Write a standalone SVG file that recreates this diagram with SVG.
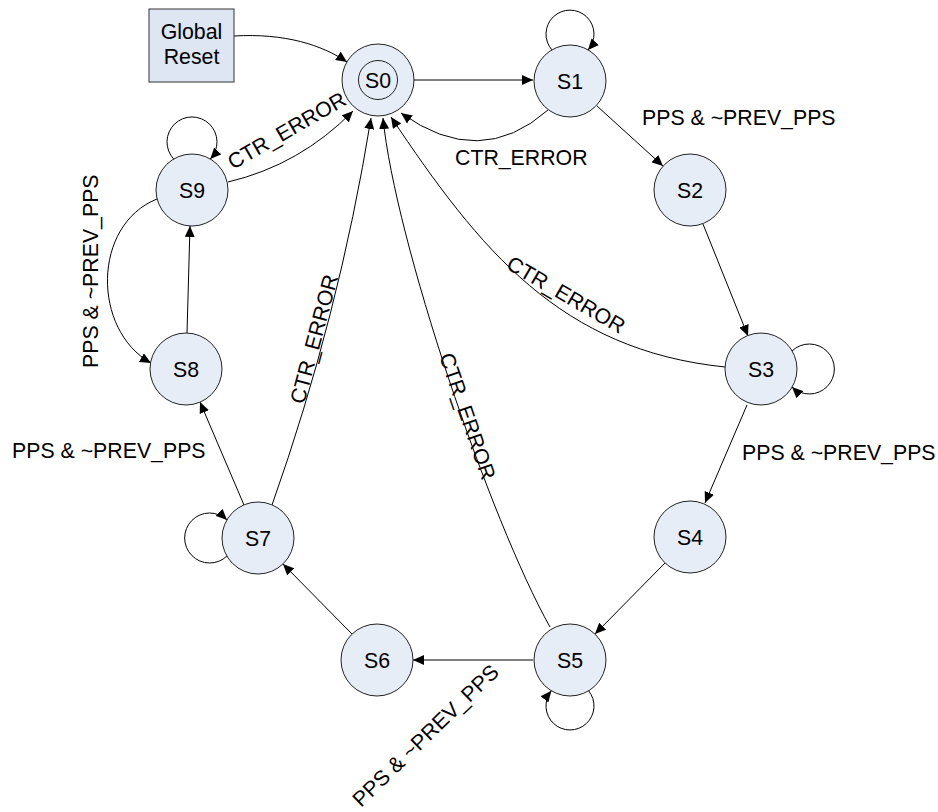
<svg xmlns="http://www.w3.org/2000/svg" width="938" height="812" viewBox="0 0 938 812">
  <style>
    .node circle { fill: #e7edf7; stroke: #222; stroke-width: 1; }
    .box rect { fill: #dde6f2; stroke: #333; stroke-width: 1; }
    .lbl { font-family: "Liberation Sans", Arial, sans-serif; font-size: 21.3px; fill: #000; }
    .nlbl { font-family: "Liberation Sans", Arial, sans-serif; font-size: 21.3px; fill: #000; text-anchor: middle; }
    .edge { fill: none; stroke: #000; stroke-width: 1; marker-end: url(#arrow); }
  </style>
  <defs>
    <marker id="arrow" markerUnits="userSpaceOnUse" markerWidth="12" markerHeight="10" refX="11" refY="5" orient="auto">
      <path d="M0,0 L11,5 L0,10 z" fill="#000"/>
    </marker>
  </defs>
  <rect width="938" height="812" fill="#fff"/>

  <!-- transitions -->
  <g id="connectors">
    <path class="edge" d="M234,36 C285,33 322,45 347,62"/>
    <path class="edge" d="M414,80 L533,80"/>
    <path class="edge" d="M552,50 A24,24 0 1 1 588,50"/>
    <path class="edge" d="M548,110 Q480,170 401,113"/>
    <path class="edge" d="M597,106 L663,166"/>
    <path class="edge" d="M703,224 L748,336"/>
    <path class="edge" d="M792,351 A25,25 0 1 1 792,387"/>
    <path class="edge" d="M725,367 C560,350 480,250 391,117"/>
    <path class="edge" d="M747,405 L705,503"/>
    <path class="edge" d="M665,563 L595,634"/>
    <path class="edge" d="M588.6,690.8 A24,24 0 1 1 551.4,690.8"/>
    <path class="edge" d="M533,660 L413,660"/>
    <path class="edge" d="M550,627 C490,520 395,240 383,118"/>
    <path class="edge" d="M352,634 L283,564"/>
    <path class="edge" d="M227,556 A25,25 0 1 1 227,520"/>
    <path class="edge" d="M244,505 L200,402"/>
    <path class="edge" d="M272,505 Q339,316 371,118"/>
    <path class="edge" d="M187,333 L190,226"/>
    <path class="edge" d="M157,199 C92,225 92,330 151,363"/>
    <path class="edge" d="M173.7,159 A25,25 0 1 1 210.3,159"/>
    <path class="edge" d="M228,182 Q300,165 353,111"/>
  </g>

  <!-- transition labels -->
  <g id="labels">
    <text class="lbl" x="642" y="125">PPS &amp; ~PREV_PPS</text>
    <text class="lbl" x="455" y="165">CTR_ERROR</text>
    <text class="lbl" x="742" y="460">PPS &amp; ~PREV_PPS</text>
    <text class="lbl" x="12" y="458">PPS &amp; ~PREV_PPS</text>
    <text class="lbl" transform="translate(98,368) rotate(-90)">PPS &amp; ~PREV_PPS</text>
    <text class="lbl" transform="translate(361,808) rotate(-44)">PPS &amp; ~PREV_PPS</text>
    <text class="lbl" transform="translate(233,170) rotate(-30)">CTR_ERROR</text>
    <text class="lbl" transform="translate(304,405) rotate(-75)">CTR_ERROR</text>
    <text class="lbl" transform="translate(505,268) rotate(30)">CTR_ERROR</text>
    <text class="lbl" transform="translate(439,356) rotate(71)">CTR_ERROR</text>
  </g>

  <g id="global_reset" class="box">
    <rect x="149" y="9" width="85" height="73"/>
    <text class="nlbl" x="191.5" y="39">Global</text>
    <text class="nlbl" x="191.5" y="64">Reset</text>
  </g>
  <g id="S0" class="node">
    <circle cx="378" cy="80" r="36"/>
    <circle cx="378" cy="80" r="19.5"/>
    <text class="nlbl" x="378" y="88">S0</text>
  </g>
  <g id="S1" class="node">
    <circle cx="570" cy="81" r="36"/>
    <text class="nlbl" x="570" y="89">S1</text>
  </g>
  <g id="S2" class="node">
    <circle cx="690" cy="190" r="36"/>
    <text class="nlbl" x="690" y="198">S2</text>
  </g>
  <g id="S3" class="node">
    <circle cx="761" cy="369" r="36"/>
    <text class="nlbl" x="761" y="377">S3</text>
  </g>
  <g id="S4" class="node">
    <circle cx="690" cy="537" r="36"/>
    <text class="nlbl" x="690" y="545">S4</text>
  </g>
  <g id="S5" class="node">
    <circle cx="570" cy="660" r="36"/>
    <text class="nlbl" x="570" y="668">S5</text>
  </g>
  <g id="S6" class="node">
    <circle cx="377" cy="660" r="36"/>
    <text class="nlbl" x="377" y="668">S6</text>
  </g>
  <g id="S7" class="node">
    <circle cx="258" cy="538" r="36"/>
    <text class="nlbl" x="258" y="546">S7</text>
  </g>
  <g id="S8" class="node">
    <circle cx="186" cy="369" r="36"/>
    <text class="nlbl" x="186" y="377">S8</text>
  </g>
  <g id="S9" class="node">
    <circle cx="192" cy="190" r="36"/>
    <text class="nlbl" x="192" y="198">S9</text>
  </g>
</svg>
